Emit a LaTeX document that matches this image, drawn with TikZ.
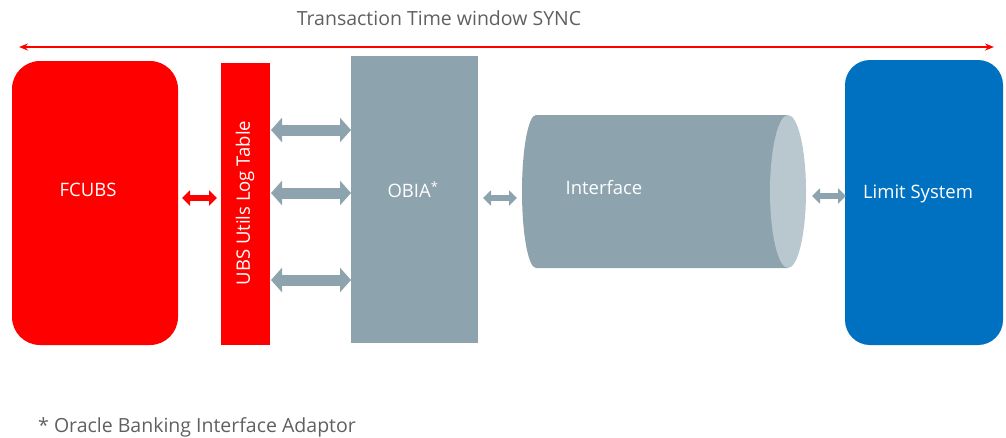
\documentclass[tikz,border=0pt]{standalone}
\usepackage{fontspec}
\setmainfont{Open Sans}
\usetikzlibrary{arrows.meta}
\definecolor{fred}{HTML}{FF0000}
\definecolor{sgray}{HTML}{8DA3AE}
\definecolor{lgray}{HTML}{B9C8CF}
\definecolor{lblue}{HTML}{0070C0}
\definecolor{tgray}{HTML}{606060}
\tikzset{
  box/.style={inner sep=0pt, outer sep=0pt, anchor=north west},
  lbl/.style={text=white, font=\fontsize{18.5}{20}\selectfont, inner sep=0pt},
  bigarrow/.style={draw=sgray, line width=11pt, {Triangle[length=11pt,width=24pt]}-{Triangle[length=11pt,width=24pt]}, shorten <=0pt, shorten >=0pt},
  smallarrow/.style={line width=6pt, {Triangle[length=8pt,width=15pt]}-{Triangle[length=8pt,width=15pt]}},
}
\begin{document}
\begin{tikzpicture}[x=1pt,y=-1pt]
\useasboundingbox (0,0) rectangle (1006,437);
% title and sync arrow
\node[text=tgray, font=\fontsize{19.5}{21}\selectfont, inner sep=0pt] (title) at (439,18) {Transaction Time window SYNC};
\coordinate (syncL) at (19,47);
\coordinate (syncR) at (994,47);
\draw[fred, line width=2.2pt, {Stealth[length=9pt,width=7pt]}-{Stealth[length=9pt,width=7pt]}] (syncL) -- (syncR);
% boxes
\node[box, fill=fred, rounded corners=28pt, minimum width=166pt, minimum height=284pt] (fcubs) at (12,61) {};
\node[lbl] (fcubsT) at (88,190) {FCUBS};
\node[box, fill=fred, minimum width=49pt, minimum height=282pt] (ubs) at (221,63) {};
\node[lbl, rotate=90] (ubsT) at (245,203) {UBS Utils Log Table};
\node[box, fill=sgray, minimum width=127pt, minimum height=287pt] (obia) at (351,56) {};
\node[lbl] (obiaT) at (413,190) {OBIA\textsuperscript{*}};
% cylinder
\node[box, minimum width=284pt, minimum height=153pt] (cyl) at (522,115) {};
\fill[sgray] ([xshift=14pt]cyl.north west) -- ([xshift=-18pt]cyl.north east) -- ([xshift=-18pt]cyl.south east) -- ([xshift=14pt]cyl.south west) arc[start angle=270, end angle=90, x radius=14pt, y radius=76.5pt] -- cycle;
\fill[lgray] ([xshift=-18pt]cyl.east) ellipse[x radius=18pt, y radius=76.5pt];
\node[lbl] (cylT) at (604,188) {Interface};
\node[box, fill=lblue, rounded corners=25pt, minimum width=158pt, minimum height=285pt] (limit) at (845,60) {};
\node[lbl] (limitT) at (918,194) {Limit System};
% connectors
\coordinate (a1) at (182,198); \coordinate (a2) at (217,198);
\draw[smallarrow, fred] (a1) -- (a2);
\foreach \y/\n in {130/p, 193/q, 280/r}{
  \coordinate (\n1) at (271,\y); \coordinate (\n2) at (351,\y);
  \draw[bigarrow] (\n1) -- (\n2);
}
\coordinate (b1) at (483,198); \coordinate (b2) at (517,198);
\draw[smallarrow, sgray] (b1) -- (b2);
\coordinate (c1) at (812,196); \coordinate (c2) at (846,196);
\draw[smallarrow, sgray] (c1) -- (c2);
% footnote
\node[text=tgray, font=\fontsize{19.5}{21}\selectfont, inner sep=0pt, anchor=west] (foot) at (38,427) {* Oracle Banking Interface Adaptor};
\end{tikzpicture}
\end{document}
